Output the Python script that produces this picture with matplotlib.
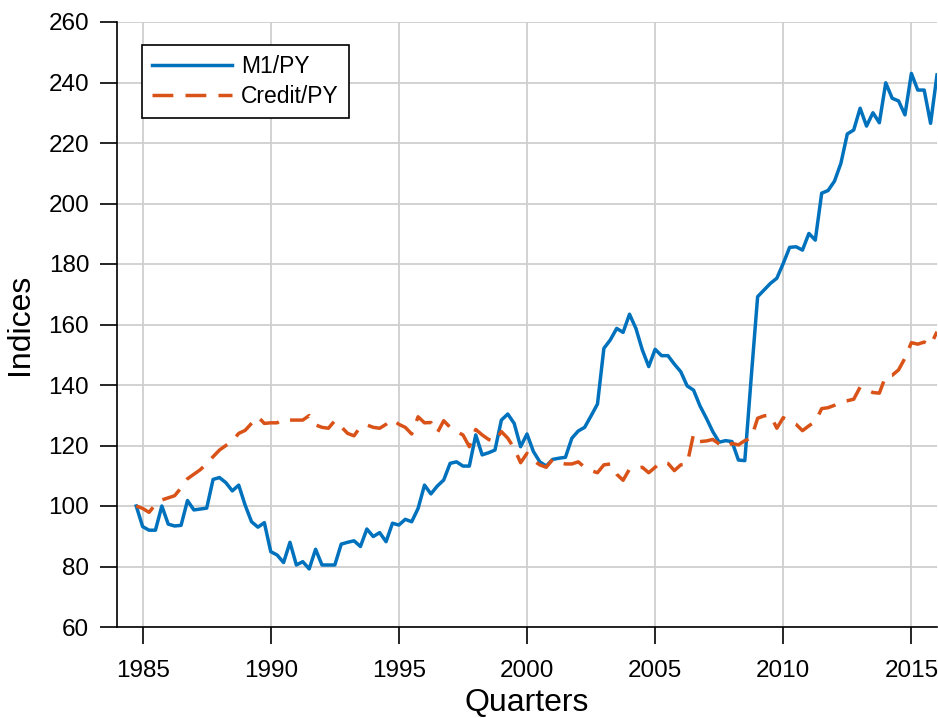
import numpy as np
import matplotlib
matplotlib.use("Agg")
import matplotlib.pyplot as plt

plt.rcParams['font.family'] = ['Liberation Sans', 'DejaVu Sans']

start_year = 1984.75
m1_py = [100, 93.2, 92, 92, 100, 94, 93.4, 93.6, 101.8, 98.7,
         99, 99.3, 108.8, 109.4, 107.7, 105, 106.9, 100.3, 94.8, 93,
         94.5, 84.9, 83.8, 81.3, 88, 80.5, 81.6, 79.2, 85.7, 80.5,
         80.5, 80.5, 87.4, 88, 88.5, 86.6, 92.4, 89.9, 91.2, 88.2,
         94.3, 93.7, 95.6, 94.8, 99.2, 106.9, 104, 106.6, 108.6, 114.1,
         114.6, 113.2, 113.2, 123.5, 116.9, 117.6, 118.5, 128.4, 130.4, 127.3,
         119.6, 123.8, 118, 114.6, 113.2, 115.4, 115.8, 116.1, 122.4, 124.8,
         126, 129.8, 133.7, 152.1, 154.9, 158.7, 157.4, 163.4, 158.7, 151.6,
         146.1, 151.8, 149.7, 149.7, 146.9, 144.4, 139.7, 138.3, 133.1, 129,
         124.6, 121.1, 121.6, 121.3, 115.2, 115, 142.5, 169.2, 171.4, 173.6,
         175.3, 180.2, 185.5, 185.7, 184.6, 190.1, 187.9, 203.4, 204.3, 207.4,
         213.3, 223, 224.3, 231.5, 225.6, 230, 226.7, 239.9, 234.8, 233.9,
         229.3, 243, 237.5, 237.5, 226.5, 242.5]
credit_py = [100, 99.2, 97.9, 100.5, 102, 102.7, 103.4, 106, 109, 110.5,
             112, 114, 116.3, 118.5, 120, 121.5, 124, 125, 127.3, 129.5,
             127.3, 127.5, 127.5, 128.8, 128.4, 128.4, 128.4, 129.9, 126.8, 126,
             125.7, 128.2, 126.2, 124, 123.2, 126.2, 126.8, 126, 125.7, 127,
             128.6, 127, 126, 123.8, 129.5, 127.5, 127.6, 124.2, 128.2, 126,
             124.6, 123.5, 119.6, 125.3, 123.5, 122, 121.3, 124.6, 122.4, 119.1,
             114.3, 117.4, 115, 113.6, 112.8, 115.4, 114.3, 113.9, 113.9, 114.6,
             112.8, 111.7, 111, 113.6, 113.9, 110.5, 108.5, 112.2, 112.5, 112.8,
             111, 112.8, 114.6, 114.1, 111.7, 113.6, 113.9, 123.8, 121.3, 121.5,
             122, 120.5, 119.4, 120.7, 120.2, 121.6, 122.4, 129, 129.8, 130,
             125.7, 129.2, 128, 127, 124.9, 126.5, 127.9, 132.2, 132.5, 133.3,
             134.5, 134.8, 135.3, 139.3, 138.5, 137.5, 137.3, 143, 143.2, 145,
             148.9, 154, 153.5, 154.2, 153.2, 157.6]
series_labels = ['M1/PY', 'Credit/PY']
x_ticks = [1985, 1990, 1995, 2000, 2005, 2010, 2015]
y_ticks = [60, 80, 100, 120, 140, 160, 180, 200, 220, 240, 260]

quarters = start_year + 0.25 * np.arange(len(m1_py))

fig = plt.figure(figsize=(9.38, 7.18), dpi=100)
ax = fig.add_axes([117/938, 91/718, 820/938, 605/718])

ax.plot(quarters, m1_py, color='#0072BD', lw=2.5, label=series_labels[0])
ax.plot(quarters, credit_py, color='#D95319', lw=2.5, dashes=(6, 3.5),
        label=series_labels[1])

ax.set_xlim(1984, 2016)
ax.set_ylim(60, 260)
ax.set_xticks(x_ticks)
ax.set_yticks(y_ticks)
ax.grid(True, color='#cfcfcf', lw=1.3)
ax.set_axisbelow(True)
for s in ['top', 'right']:
    ax.spines[s].set_visible(False)
for s in ['left', 'bottom']:
    ax.spines[s].set_linewidth(1.2)
ax.tick_params(direction='out', length=12, width=1.2, labelsize=17.5)
ax.tick_params(axis='x', pad=12)
ax.tick_params(axis='y', pad=8)

ax.set_xlabel('Quarters', fontsize=23, labelpad=4)
ax.set_ylabel('Indices', fontsize=23, labelpad=10)

leg = ax.legend(loc='upper left', bbox_to_anchor=(0.030, 0.962), fontsize=16.5,
                frameon=True, fancybox=False, handlelength=3.5,
                handletextpad=0.4, borderpad=0.45, labelspacing=0.3,
                borderaxespad=0)
leg.get_frame().set_edgecolor('black')
leg.get_frame().set_linewidth(1.2)
leg.get_frame().set_alpha(1)

fig.savefig('out.png', dpi=100)
